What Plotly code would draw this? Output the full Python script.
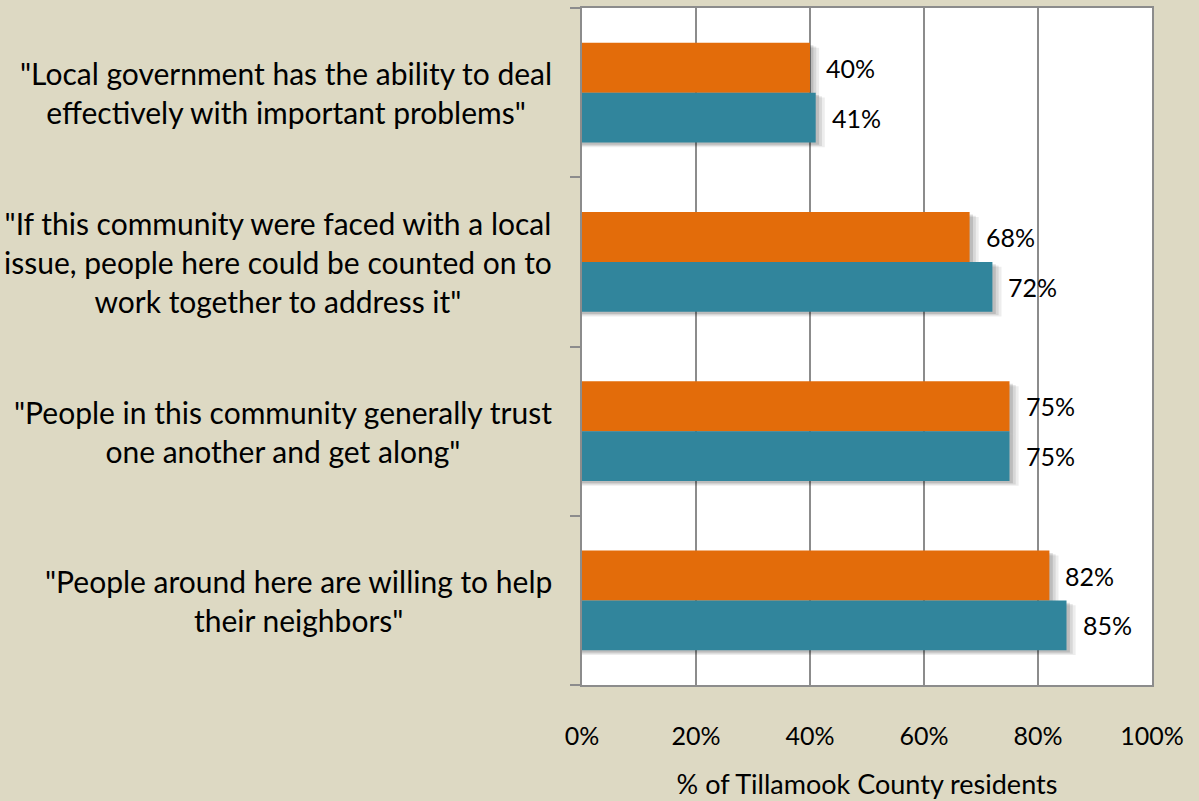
import plotly.graph_objects as go

# Survey statements (top to bottom) and the share agreeing, two series
statements = [
    '"Local government has the ability to deal<br>effectively with important problems"',
    '"If this community were faced with a local<br>issue, people here could be counted on to<br>work together to address it"',
    '"People in this community generally trust<br>one another and get along"',
    '"People around here are willing to help<br>their neighbors"',
]
orange_vals = [40, 68, 75, 82]
teal_vals = [41, 72, 75, 85]
x_ticks = [0, 20, 40, 60, 80, 100]
x_tick_text = ["0%", "20%", "40%", "60%", "80%", "100%"]

ORANGE = "#E36C0A"
TEAL = "#31859C"
BG = "#DDD9C3"
GRID = "#8C8C8C"
FONT = "Lato"

pos = list(range(len(statements)))
bar_w = 0.294

fig = go.Figure()

# soft drop shadows behind the bars
for vals, off in ((orange_vals, -bar_w), (teal_vals, 0.0)):
    for k, alpha in ((1.6, 0.07), (1.1, 0.09), (0.6, 0.12)):
        fig.add_trace(go.Bar(
            x=[v + k for v in vals], y=pos, orientation="h",
            width=bar_w, offset=off + 0.014 * k + 0.006,
            marker=dict(color=f"rgba(0,0,0,{alpha})", line=dict(width=0)),
            hoverinfo="skip", showlegend=False,
        ))

fig.add_trace(go.Bar(
    x=orange_vals, y=pos, orientation="h", width=bar_w, offset=-bar_w,
    marker=dict(color=ORANGE, line=dict(width=0)), showlegend=False,
))
fig.add_trace(go.Bar(
    x=teal_vals, y=pos, orientation="h", width=bar_w, offset=0.0,
    marker=dict(color=TEAL, line=dict(width=0)), showlegend=False,
))

annotations = []
for i, (o, t) in enumerate(zip(orange_vals, teal_vals)):
    annotations.append(dict(x=o, y=i - bar_w / 2, xref="x", yref="y",
                            text=f"{o}%", showarrow=False, xanchor="left",
                            xshift=14, font=dict(family=FONT, size=25, color="#000")))
    annotations.append(dict(x=t, y=i + bar_w / 2, xref="x", yref="y",
                            text=f"{t}%", showarrow=False, xanchor="left",
                            xshift=14, font=dict(family=FONT, size=25, color="#000")))
for i, s in enumerate(statements):
    annotations.append(dict(x=0, y=i, xref="paper", yref="y", text=s,
                            showarrow=False, xanchor="right", xshift=-28,
                            align="center",
                            font=dict(family=FONT, size=30, color="#000")))

fig.update_layout(
    width=1199, height=801,
    margin=dict(l=582, r=47, t=6, b=114),
    paper_bgcolor=BG, plot_bgcolor="white",
    barmode="overlay",
    annotations=annotations,
    font=dict(family=FONT, size=25, color="#000"),
    xaxis=dict(
        range=[0, 100], tickvals=x_ticks, ticktext=x_tick_text,
        showgrid=True, gridcolor=GRID, gridwidth=1.5,
        showline=True, linecolor=GRID, linewidth=2, mirror=True,
        zeroline=False, ticks="", ticklabelstandoff=28,
        tickfont=dict(family=FONT, size=25, color="#000"),
        title=dict(text="% of Tillamook County residents", standoff=26,
                   font=dict(family=FONT, size=27, color="#000")),
    ),
    yaxis=dict(
        range=[len(statements) - 0.5, -0.5],
        tickvals=[p - 0.5 for p in pos] + [len(statements) - 0.5],
        showticklabels=False, showgrid=False, zeroline=False,
        showline=True, linecolor=GRID, linewidth=2, mirror=True,
        ticks="outside", ticklen=10, tickwidth=1.5, tickcolor=GRID,
    ),
)

fig.write_html("out.html")
